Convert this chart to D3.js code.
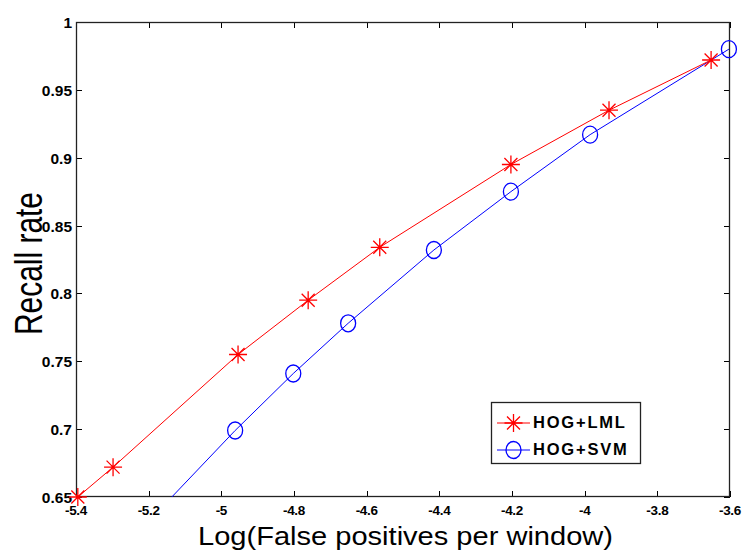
<!DOCTYPE html>
<html><head><meta charset="utf-8">
<script src="https://cdn.jsdelivr.net/npm/d3@7"></script>
<style>body{margin:0;background:#fff}svg{display:block}</style>
</head><body>
<script>
const lmlX = [-5.395, -5.298, -4.954, -4.761, -4.564, -4.203, -3.933, -3.652];
const lmlY = [0.650, 0.672, 0.755, 0.795, 0.834, 0.895, 0.935, 0.972];
const svmX = [-5.30, -4.962, -4.802, -4.651, -4.415, -4.203, -3.985, -3.603];
const svmY = [0.604, 0.699, 0.741, 0.778, 0.832, 0.875, 0.917, 0.980];
const xTicks = [-5.4, -5.2, -5, -4.8, -4.6, -4.4, -4.2, -4, -3.8, -3.6];
const yTicks = [0.65, 0.7, 0.75, 0.8, 0.85, 0.9, 0.95, 1];
const seriesNames = ["HOG+LML", "HOG+SVM"];

const W = 745, H = 552;
const L = 76, R = 730, T = 22, B = 497;
const svg = d3.select("body").append("svg").attr("width", W).attr("height", H);
const x = d3.scaleLinear().domain([-5.4, -3.6]).range([L, R]);
const y = d3.scaleLinear().domain([0.65, 1]).range([B, T]);
const font = "'Liberation Sans', Arial, sans-serif";

svg.append("defs").append("clipPath").attr("id", "clip")
  .append("rect").attr("x", L).attr("y", T).attr("width", R - L).attr("height", B - T);

// ticks (inward on all four sides)
const tl = 6;
const g = svg.append("g").attr("stroke", "#000").attr("stroke-width", 1);
xTicks.forEach(v => {
  const px = Math.round(x(v)) + 0.5;
  g.append("line").attr("x1", px).attr("x2", px).attr("y1", B).attr("y2", B - tl);
  g.append("line").attr("x1", px).attr("x2", px).attr("y1", T).attr("y2", T + tl);
});
yTicks.forEach(v => {
  const py = Math.round(y(v)) + 0.5;
  g.append("line").attr("x1", L).attr("x2", L + tl).attr("y1", py).attr("y2", py);
  g.append("line").attr("x1", R).attr("x2", R - tl).attr("y1", py).attr("y2", py);
});
svg.append("rect").attr("x", L + 0.5).attr("y", T + 0.5).attr("width", R - L - 1).attr("height", B - T - 1)
  .attr("fill", "none").attr("stroke", "#222").attr("stroke-width", 1.3);

// tick labels
xTicks.forEach(v => {
  svg.append("text").attr("x", x(v)).attr("y", 515).attr("text-anchor", "middle")
    .attr("font-family", font).attr("font-weight", "bold").attr("font-size", 13.5)
    .attr("letter-spacing", -0.3)
    .text(String(v));
});
yTicks.forEach(v => {
  svg.append("text").attr("x", 72).attr("y", y(v) + 6).attr("text-anchor", "end")
    .attr("font-family", font).attr("font-weight", "bold").attr("font-size", 15.5)
    .text(String(v));
});

// axis labels
svg.append("text").attr("x", 198).attr("y", 545)
  .attr("font-family", font).attr("font-size", 25)
  .attr("textLength", 415).attr("lengthAdjust", "spacingAndGlyphs")
  .text("Log(False positives per window)");
svg.append("text").attr("transform", "translate(42,335) rotate(-90)")
  .attr("font-family", font).attr("font-size", 38)
  .attr("textLength", 143).attr("lengthAdjust", "spacingAndGlyphs")
  .text("Recall rate");

// series
const plot = svg.append("g").attr("clip-path", "url(#clip)");
const line = d3.line().x(d => x(d[0])).y(d => y(d[1]));
const lml = lmlX.map((v, i) => [v, lmlY[i]]);
const svm = svmX.map((v, i) => [v, svmY[i]]);
plot.append("path").datum(svm).attr("d", line).attr("fill", "none").attr("stroke", "#0000ff").attr("stroke-width", 1);
plot.append("path").datum(lml).attr("d", line).attr("fill", "none").attr("stroke", "#ff0000").attr("stroke-width", 1);

function star(sel, cx, cy) {
  const r = 9, d = 6.5;
  const p = `M${cx - r},${cy}H${cx + r}M${cx},${cy - r}V${cy + r}M${cx - d},${cy - d}L${cx + d},${cy + d}M${cx - d},${cy + d}L${cx + d},${cy - d}`;
  sel.append("path").attr("d", p).attr("stroke", "#ff0000").attr("stroke-width", 1.3).attr("fill", "none");
}
function circ(sel, cx, cy) {
  sel.append("ellipse").attr("cx", cx).attr("cy", cy).attr("rx", 7.5).attr("ry", 8.5)
    .attr("fill", "none").attr("stroke", "#0000ff").attr("stroke-width", 1.3);
}
const mk = svg.append("g");
svm.forEach(d => { if (d[1] >= 0.65) circ(mk, x(d[0]), y(d[1])); });
lml.forEach(d => star(mk, x(d[0]), y(d[1])));

// legend
const lg = svg.append("g");
lg.append("rect").attr("x", 491.5).attr("y", 402.5).attr("width", 149).attr("height", 61)
  .attr("fill", "#fff").attr("stroke", "#222").attr("stroke-width", 1.3);
const rows = [{ y: 423, c: "#ff0000", f: star }, { y: 450, c: "#0000ff", f: circ }];
rows.forEach((r, i) => {
  lg.append("line").attr("x1", 497).attr("x2", 530).attr("y1", r.y).attr("y2", r.y).attr("stroke", r.c);
  r.f(lg, 513.5, r.y);
  lg.append("text").attr("x", 533).attr("y", r.y + 4.5).attr("font-family", font).attr("font-weight", "bold")
    .attr("font-size", 16.5).attr("letter-spacing", 1.8).text(seriesNames[i]);
});
</script>
</body></html>
